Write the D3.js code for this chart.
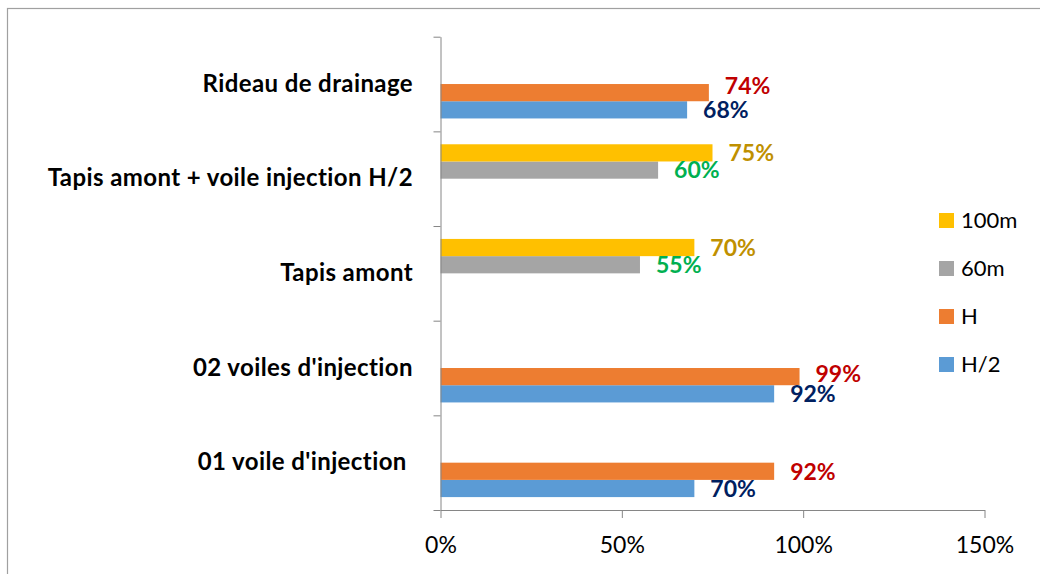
<!DOCTYPE html>
<html>
<head>
<meta charset="utf-8">
<script src="https://cdn.jsdelivr.net/npm/d3@7"></script>
<style>
  html, body { margin: 0; padding: 0; background: #fff; }
  svg { display: block; }
  text { font-family: Lato, "Open Sans", sans-serif; font-variant-ligatures: none; }
</style>
</head>
<body>
<svg id="chart" width="1040" height="574"></svg>
<script>
// Categories, listed bottom to top
const categories = [
  "01 voile d'injection ",
  "02 voiles d'injection",
  "Tapis amont",
  "Tapis amont + voile injection H/2",
  "Rideau de drainage"
];

// Series values (share of 1); null = not measured for that case
const seriesNames = ["H/2", "H", "60m", "100m"];
const valuesH2   = [0.70, 0.92, null, null, 0.68];
const valuesH    = [0.92, 0.99, null, null, 0.74];
const values60m  = [null, null, 0.55, 0.60, null];
const values100m = [null, null, 0.70, 0.75, null];

const xTicks = [0, 0.5, 1, 1.5];

const seriesValues = [valuesH2, valuesH, values60m, values100m];
const barColors   = { "H/2": "#5B9BD5", "H": "#ED7D31", "60m": "#A5A5A5", "100m": "#FFC000" };
const labelColors = { "H/2": "#002060", "H": "#C00000", "60m": "#00B050", "100m": "#BF9000" };

const svg = d3.select("#chart");

// outer chart frame
svg.append("rect")
  .attr("x", 7.5).attr("y", 8.5)
  .attr("width", 1100).attr("height", 700)
  .attr("fill", "none").attr("stroke", "#A0A0A0").attr("stroke-width", 1.2);

const plot = { left: 440.5, right: 984.5, top: 36.7, bottom: 510 };

const x = d3.scaleLinear().domain([0, 1.5]).range([plot.left, plot.right]);

// top category first in the domain so it sits at the top
const y = d3.scaleBand()
  .domain(categories.slice().reverse())
  .range([plot.top, plot.bottom])
  .padding(0);

// series slots inside a category band: first series at the bottom
const ySeries = d3.scaleBand()
  .domain(seriesNames.slice().reverse())
  .range([0, y.bandwidth()])
  .paddingInner(0)
  .paddingOuter(0.75);

// flatten into bar records
const bars = [];
categories.forEach((c, i) => {
  seriesNames.forEach((s, j) => {
    const v = seriesValues[j][i];
    if (v != null) bars.push({ category: c, series: s, value: v });
  });
});

// bars
svg.append("g").selectAll("rect")
  .data(bars)
  .join("rect")
  .attr("x", x(0))
  .attr("y", d => y(d.category) + ySeries(d.series))
  .attr("width", d => x(d.value) - x(0))
  .attr("height", ySeries.bandwidth())
  .attr("fill", d => barColors[d.series]);

// value labels, just past the bar end
const labelNudge = { "Rideau de drainage|H": -7, "02 voiles d'injection|H": -3 };
svg.append("g").selectAll("text")
  .data(bars)
  .join("text")
  .attr("x", d => x(d.value) + 16)
  .attr("y", d => y(d.category) + ySeries(d.series) + ySeries.bandwidth() / 2
                  + (labelNudge[d.category + "|" + d.series] || 0))
  .attr("dy", "0.36em")
  .attr("font-size", 23)
  .attr("font-weight", 700)
  .attr("fill", d => labelColors[d.series])
  .text(d => d3.format(".0%")(d.value));

// vertical category axis with ticks on band boundaries
const yEdges = d3.scaleLinear().domain([0, categories.length]).range([plot.bottom, plot.top]);
const yAxis = svg.append("g")
  .attr("transform", `translate(${plot.left},0)`)
  .call(d3.axisLeft(yEdges).ticks(categories.length).tickFormat("").tickSize(7).tickSizeOuter(0));
yAxis.select(".domain").attr("stroke", "#868686");
yAxis.selectAll(".tick line").attr("stroke", "#868686");

// category labels
svg.append("g").selectAll("text")
  .data(categories)
  .join("text")
  .attr("x", 413)
  .attr("y", c => y(c) + y.bandwidth() / 2 - 1)
  .attr("dy", "0.36em")
  .attr("text-anchor", "end")
  .attr("font-size", 24)
  .attr("font-weight", 700)
  .attr("letter-spacing", 0.4)
  .attr("fill", "#000")
  .style("white-space", "pre")
  .text(c => c);

// horizontal value axis
const xAxis = svg.append("g")
  .attr("transform", `translate(0,${plot.bottom})`)
  .call(d3.axisBottom(x).tickValues(xTicks).tickFormat(d3.format(".0%")).tickSize(8).tickSizeOuter(0));
xAxis.select(".domain").attr("stroke", "#868686");
xAxis.selectAll(".tick line").attr("stroke", "#868686");
xAxis.selectAll(".tick text")
  .attr("y", 27)
  .attr("dy", "0.71em")
  .attr("font-size", 23)
  .attr("font-family", "Lato, 'Open Sans', sans-serif")
  .attr("fill", "#000");

// legend, top entry = last series
const legend = svg.append("g").attr("transform", "translate(939,213)");
const legendItems = legend.selectAll("g")
  .data(seriesNames.slice().reverse())
  .join("g")
  .attr("transform", (d, i) => `translate(0,${i * 48})`);
legendItems.append("rect")
  .attr("width", 15).attr("height", 15)
  .attr("fill", d => barColors[d]);
legendItems.append("text")
  .attr("x", 22).attr("y", 7.5)
  .attr("dy", "0.36em")
  .attr("font-size", 22)
  .attr("fill", "#000")
  .text(d => d);
</script>
</body>
</html>
